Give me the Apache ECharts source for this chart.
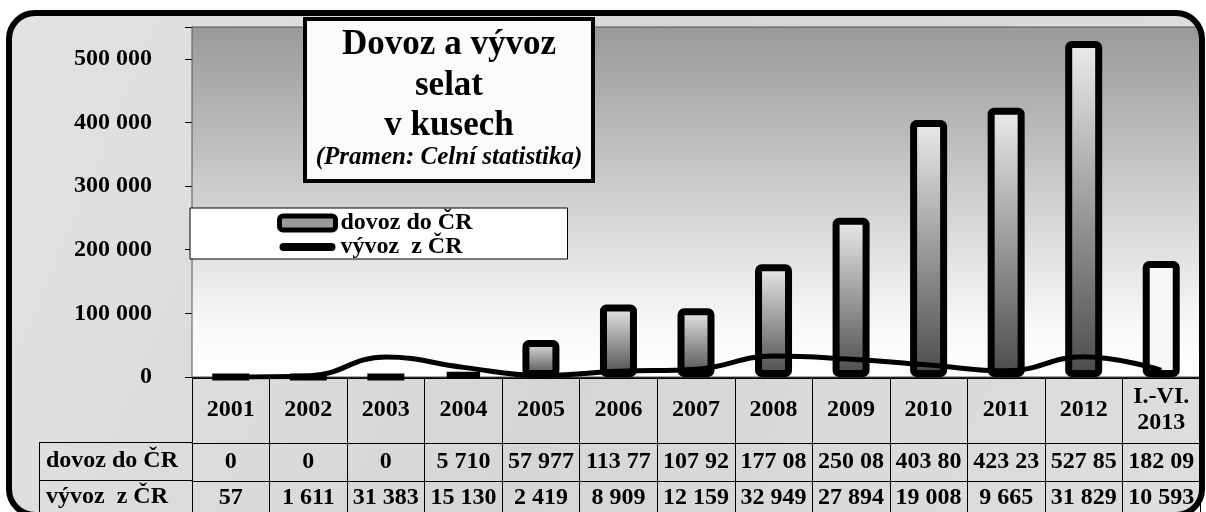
<!DOCTYPE html>
<html>
<head>
<meta charset="utf-8">
<script src="https://cdn.jsdelivr.net/npm/echarts@6/dist/echarts.min.js"></script>
<style>
  html, body { margin: 0; padding: 0; background: #fff; }
  #chart { width: 1206px; height: 512px; }
</style>
</head>
<body>
<div id="chart"></div>
<script>
// data
var years = ['2001', '2002', '2003', '2004', '2005', '2006', '2007', '2008', '2009', '2010', '2011', '2012', 'I.-VI.\n2013']
var dovoz = [0, 0, 0, 5710, 57977, 113770, 107920, 177080, 250080, 403800, 423230, 527850, 182090]
var vyvoz = [57, 1611, 31383, 15130, 2419, 8909, 12159, 32949, 27894, 19008, 9665, 31829, 10593]
var seriesNames = ['dovoz do ČR', 'vývoz  z ČR']
var yTicks = [0, 100000, 200000, 300000, 400000, 500000]
var titleLines = ['Dovoz a vývoz', 'selat', 'v kusech']
var sourceNote = '(Pramen: Celní statistika)'

var FONT = 'Liberation Serif'

function fmt(v) {
  return String(v).replace(/\B(?=(\d{3})+(?!\d))/g, ' ')
}

var myChart = echarts.init(document.getElementById('chart'))

var barData = []
for (var i = 0; i < dovoz.length; i++) {
  var item = { value: dovoz[i] }
  // the last (half year) bar is plain light
  if (i == dovoz.length - 1) {
    item.itemStyle = { color: '#f7f7f7' }
  }
  barData.push(item)
}

var labelStyle = {
  color: '#000',
  fontFamily: FONT,
  fontWeight: 'bold',
  fontSize: 24
}

var option = {
  animation: false,
  backgroundColor: '#fff',
  grid: {
    left: 192,
    right: 6,
    top: 27,
    bottom: 135,
    show: true,
    borderColor: '#555',
    borderWidth: 1,
    backgroundColor: new echarts.graphic.LinearGradient(0, 0, 0, 1, [
      { offset: 0, color: '#999999' },
      { offset: 0.85, color: '#f8f8f8' },
      { offset: 1, color: '#ffffff' }
    ]),
    z: 1
  },
  legend: {
    data: [
      { name: seriesNames[0], icon: 'roundRect', itemStyle: { color: '#9a9a9a', borderColor: '#000', borderWidth: 5 } },
      { name: seriesNames[1], icon: 'path://M4,0 L52,0 A4,4 0 0 1 52,8 L4,8 A4,4 0 0 1 4,0 Z', itemStyle: { color: '#000', borderWidth: 0 } }
    ],
    orient: 'vertical',
    left: 190,
    top: 208,
    itemGap: 0,
    itemWidth: 56,
    itemHeight: 14,
    padding: [3, 95, 0, 87],
    backgroundColor: '#fff',
    borderColor: '#000',
    borderWidth: 1,
    borderRadius: 0,
    selectedMode: false,
    textStyle: {
      color: '#000',
      fontFamily: FONT,
      fontWeight: 'bold',
      fontSize: 24,
      lineHeight: 24
    },
    z: 20
  },
  xAxis: [
    {
      type: 'category',
      data: years,
      position: 'bottom',
      axisLine: { show: true, lineStyle: { color: '#000', width: 1 } },
      axisTick: { show: true, length: 66, interval: 0, lineStyle: { color: '#000', width: 1 } },
      splitLine: { show: true, interval: 0, lineStyle: { color: '#000', width: 1 } },
      axisLabel: Object.assign({ interval: 0, margin: 33, verticalAlign: 'middle', lineHeight: 26 }, labelStyle)
    },
    {
      type: 'category',
      data: dovoz.map(fmt),
      position: 'bottom',
      offset: 66,
      axisLine: { show: true, lineStyle: { color: '#000', width: 1 } },
      axisTick: { show: true, length: 38, interval: 0, lineStyle: { color: '#000', width: 1 } },
      axisLabel: Object.assign({ interval: 0, margin: 19, verticalAlign: 'middle', width: 76, overflow: 'truncate', ellipsis: '' }, labelStyle)
    },
    {
      type: 'category',
      data: vyvoz.map(fmt),
      position: 'bottom',
      offset: 104,
      axisLine: { show: true, lineStyle: { color: '#000', width: 1 } },
      axisTick: { show: true, length: 40, interval: 0, lineStyle: { color: '#000', width: 1 } },
      axisLabel: Object.assign({ interval: 0, margin: 17, verticalAlign: 'middle', width: 76, overflow: 'truncate', ellipsis: '' }, labelStyle)
    }
  ],
  yAxis: {
    type: 'value',
    min: 0,
    max: 550000,
    interval: 100000,
    axisLine: { show: true, lineStyle: { color: '#555', width: 1 } },
    axisTick: { show: true, length: 7, lineStyle: { color: '#000', width: 1 } },
    splitLine: {
      show: true,
      lineStyle: {
        color: ['#000', '#000', '#000', '#000', '#000', '#000', 'rgba(0,0,0,0)'],
        width: 4
      }
    },
    axisLabel: Object.assign({
      margin: 40,
      formatter: function (v) {
        return yTicks.indexOf(v) >= 0 ? fmt(v) : ''
      }
    }, labelStyle)
  },
  series: [
    {
      name: seriesNames[0],
      type: 'bar',
      data: barData,
      barWidth: 37,
      z: 3,
      itemStyle: {
        color: new echarts.graphic.LinearGradient(0, 0, 0, 1, [
          { offset: 0, color: '#ececec' },
          { offset: 1, color: '#4a4a4a' }
        ]),
        borderColor: '#000',
        borderWidth: 7,
        borderRadius: 3
      }
    },
    {
      name: seriesNames[1],
      type: 'line',
      data: vyvoz,
      smooth: 0.45,
      symbol: 'none',
      z: 4,
      lineStyle: { color: '#000', width: 5 },
      itemStyle: { color: '#000' }
    }
  ],
  graphic: {
    elements: [
      // marble-ish frame fill
      {
        type: 'rect',
        z: -10,
        shape: { x: 9, y: 13, width: 1193, height: 502, r: 26 },
        style: {
          fill: new echarts.graphic.LinearGradient(0, 0, 1, 1, [
            { offset: 0, color: '#e2e2e2' },
            { offset: 0.5, color: '#d6d6d6' },
            { offset: 1, color: '#dedede' }
          ])
        }
      },
      // frame border on top
      {
        type: 'rect',
        z: 100,
        shape: { x: 9, y: 13, width: 1193, height: 502, r: 26 },
        style: { fill: null, stroke: '#000', lineWidth: 6 }
      },
      // left header cells of the table
      { type: 'line', z: 5, shape: { x1: 39, y1: 442.5, x2: 192, y2: 442.5 }, style: { stroke: '#000', lineWidth: 1 } },
      { type: 'line', z: 5, shape: { x1: 39, y1: 480.5, x2: 192, y2: 480.5 }, style: { stroke: '#000', lineWidth: 1 } },
      { type: 'line', z: 5, shape: { x1: 39.5, y1: 442, x2: 39.5, y2: 515 }, style: { stroke: '#000', lineWidth: 1 } },
      {
        type: 'text', z: 5, left: 46, top: 449,
        style: { text: seriesNames[0], fill: '#000', font: 'bold 24px "' + FONT + '"' }
      },
      {
        type: 'text', z: 5, left: 46, top: 485,
        style: { text: seriesNames[1], fill: '#000', font: 'bold 24px "' + FONT + '"' }
      },
      // title box
      {
        type: 'rect',
        z: 30,
        shape: { x: 305, y: 19, width: 288, height: 162 },
        style: { fill: '#fbfbfb', stroke: '#000', lineWidth: 4 }
      },
      {
        type: 'text', z: 31, x: 449, y: 45,
        style: { text: titleLines[0], fill: '#000', font: 'bold 35px "' + FONT + '"', textAlign: 'center', textVerticalAlign: 'middle' }
      },
      {
        type: 'text', z: 31, x: 449, y: 86,
        style: { text: titleLines[1], fill: '#000', font: 'bold 35px "' + FONT + '"', textAlign: 'center', textVerticalAlign: 'middle' }
      },
      {
        type: 'text', z: 31, x: 449, y: 126,
        style: { text: titleLines[2], fill: '#000', font: 'bold 35px "' + FONT + '"', textAlign: 'center', textVerticalAlign: 'middle' }
      },
      {
        type: 'text', z: 31, x: 449, y: 158,
        style: { text: sourceNote, fill: '#000', font: 'italic bold 25px "' + FONT + '"', textAlign: 'center', textVerticalAlign: 'middle' }
      }
    ]
  }
}

myChart.setOption(option)
</script>
</body>
</html>
